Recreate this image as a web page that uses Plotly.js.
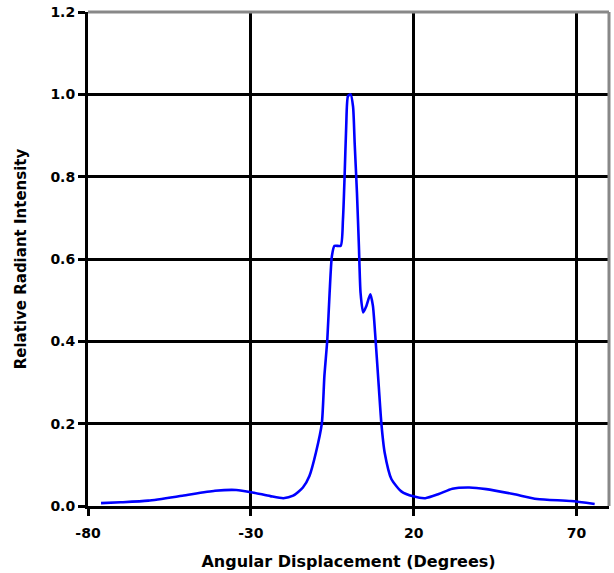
<!DOCTYPE html>
<html>
<head>
<meta charset="utf-8">
<script src="https://cdn.plot.ly/plotly-3.0.1.min.js"></script>
<style>html,body{margin:0;padding:0;background:#fff;}#chart{width:614px;height:573px;}</style>
</head>
<body>
<div id="chart"></div>
<script>
const angleDeg = [-76, -70, -61.5, -51, -41, -34.5, -29.5, -24, -20, -17, -14, -12, -10, -8.2, -7.4, -6.5, -5.8, -5.1, -4.3, -2.4, -1.7, -1.2, -0.7, -0.15, 0.65, 1.4, 1.9, 2.6, 3.2, 3.7, 4.5, 5.5, 6.7, 7.5, 8.3, 9.3, 10.1, 11.1, 13.2, 16.3, 19.9, 23.6, 27.7, 31.9, 37.1, 42.3, 50.6, 57.9, 68.3, 75.6];
const intensity = [0.007, 0.009, 0.013, 0.025, 0.037, 0.039, 0.033, 0.024, 0.019, 0.025, 0.045, 0.073, 0.13, 0.2, 0.316, 0.405, 0.518, 0.607, 0.632, 0.632, 0.696, 0.80, 0.923, 0.996, 1.0, 0.97, 0.88, 0.76, 0.63, 0.518, 0.47, 0.486, 0.514, 0.486, 0.405, 0.29, 0.2, 0.13, 0.065, 0.035, 0.0235, 0.019, 0.029, 0.042, 0.045, 0.041, 0.029, 0.017, 0.012, 0.005];
const xTicks = [-80, -30, 20, 70];
const yTicks = [0.0, 0.2, 0.4, 0.6, 0.8, 1.0, 1.2];

const fontFam = '"DejaVu Sans", "Liberation Sans", Arial, sans-serif';
const trace = {
  x: angleDeg, y: intensity, type: 'scatter', mode: 'lines',
  line: {color: '#0000ff', width: 2.6, shape: 'spline', smoothing: 0.6},
  hoverinfo: 'none'
};
const layout = {
  width: 614, height: 573,
  margin: {l: 88, r: 5, t: 12, b: 67},
  paper_bgcolor: '#ffffff', plot_bgcolor: '#ffffff',
  showlegend: false,
  font: {family: fontFam, color: '#000', size: 14, weight: 'bold'},
  xaxis: {
    range: [-80, 80], tickvals: xTicks, ticktext: xTicks.map(String),
    showgrid: true, gridcolor: '#000', gridwidth: 3,
    showline: true, linecolor: '#000', linewidth: 3,
    ticks: 'outside', ticklen: 7, tickwidth: 3, tickcolor: '#000',
    ticklabelstandoff: 5,
    zeroline: false,
    tickfont: {family: fontFam, size: 14, color: '#000', weight: 'bold'},
    title: {text: 'Angular Displacement (Degrees)', font: {family: fontFam, size: 16, color: '#000', weight: 'bold'}, standoff: 17}
  },
  yaxis: {
    range: [0, 1.2], tickvals: yTicks, ticktext: yTicks.map(v => v.toFixed(1)),
    showgrid: true, gridcolor: '#000', gridwidth: 3,
    showline: true, linecolor: '#000', linewidth: 3,
    ticks: 'outside', ticklen: 7, tickwidth: 3, tickcolor: '#000',
    zeroline: false,
    tickfont: {family: fontFam, size: 14, color: '#000', weight: 'bold'},
    title: {text: 'Relative Radiant Intensity', font: {family: fontFam, size: 15, color: '#000', weight: 'bold'}, standoff: 21}
  },
  shapes: [
    {type: 'line', xref: 'paper', yref: 'paper', x0: 0, x1: 1, y0: 1, y1: 1, line: {color: '#888', width: 3}, layer: 'above'},
    {type: 'line', xref: 'paper', yref: 'paper', x0: 1, x1: 1, y0: 0, y1: 1, line: {color: '#888', width: 3}, layer: 'above'}
  ]
};
Plotly.newPlot('chart', [trace], layout, {staticPlot: true, displayModeBar: false});
</script>
</body>
</html>
